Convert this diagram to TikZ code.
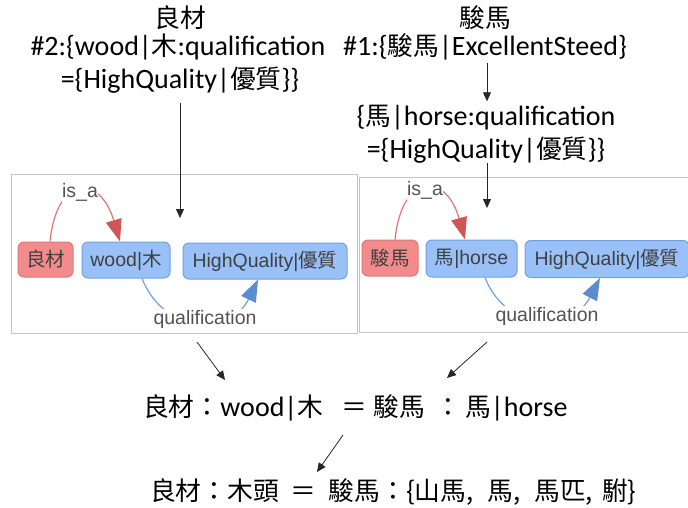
\documentclass[tikz,border=0pt]{standalone}
\usepackage{fontspec}
\setmainfont{Carlito}
\newfontfamily\cjk[Scale=0.92]{Noto Sans CJK TC}
\newfontfamily\cjkg{Noto Sans CJK TC}
\newfontfamily\arialf{Liberation Sans}
\usetikzlibrary{arrows.meta}
\newcommand{\zh}[1]{{\cjk #1}}
\newcommand{\zg}[1]{{\cjkg #1}}
\definecolor{redfill}{HTML}{F28C8C}
\definecolor{redline}{HTML}{E07676}
\definecolor{redarrow}{HTML}{D05656}
\definecolor{bluefill}{HTML}{99C1F7}
\definecolor{blueline}{HTML}{70A0E2}
\definecolor{bluearrow}{HTML}{5A8CD0}
\definecolor{nodetext}{HTML}{404040}
\definecolor{boxline}{HTML}{C4C4C4}
\begin{document}
\begin{tikzpicture}[x=1pt,y=-1pt,
  toptext/.style={font=\fontsize{28}{32}\selectfont, inner sep=0pt},
  eqtext/.style={font=\fontsize{28}{32}\selectfont, inner sep=0pt, anchor=west},
  framebox/.style={draw=boxline, line width=0.9pt, inner sep=0pt},
  gnode/.style={rounded corners=6pt, line width=1pt, inner sep=0pt,
    font=\arialf\fontsize{19.5}{21}\selectfont, text=nodetext},
  rednode/.style={gnode, fill=redfill, draw=redline},
  bluenode/.style={gnode, fill=bluefill, draw=blueline},
  elabel/.style={font=\arialf\fontsize{19.5}{21}\selectfont, text=nodetext!90, fill=white, inner sep=0.5pt},
  rededge/.style={draw=redline, line width=1.2pt, -{Triangle[length=22pt,width=16pt,color=redarrow,fill=redarrow]}},
  blueedge/.style={draw=blueline, line width=1.2pt, -{Triangle[length=22pt,width=16pt,color=bluearrow,fill=bluearrow]}},
  blackarrow/.style={draw=black!85, line width=0.8pt, -{Triangle[length=9pt,width=8pt]}}
]
\useasboundingbox (0,0) rectangle (688,508);

% ---------- top texts ----------
\node[toptext] (t1) at (180,18) {\zh{良材}};
\node[toptext] (t2) at (178,47) {\#2:\{wood|\zh{木}:qualification};
\node[toptext] (t3) at (180,80) {=\{HighQuality|\zh{優質}\}\}};

\node[toptext] (t4) at (485,18) {\zh{駿馬}};
\node[toptext] (t5) at (485,47) {\#1:\{\zh{駿馬}|ExcellentSteed\}};
\node[toptext] (t6) at (486,118) {\{\zh{馬}|horse:qualification};
\node[toptext] (t7) at (486,150) {=\{HighQuality|\zh{優質}\}\}};

% ---------- graph frames ----------
\node[framebox, minimum width=346pt, minimum height=159pt] (boxL) at (184,253.5) {};
\node[framebox, minimum width=332pt, minimum height=155pt] (boxR) at (525,254.5) {};

% ---------- left graph ----------
\node[rednode, minimum width=55pt, minimum height=35pt] (rL) at (45.5,259.5) {\zg{良材}};
\node[bluenode, minimum width=88pt, minimum height=36pt] (wL) at (126,260) {wood|\zg{木}};
\node[bluenode, minimum width=164pt, minimum height=36pt] (hL) at (265,261) {HighQuality|\zg{優質}};

\draw[rededge] ([xshift=4.5pt]rL.north) .. controls (57,174) and (100,174) .. ([xshift=-6pt]wL.north);
\node[elabel] (isaL) at (80,192) {is\_a};
\draw[blueedge] ([xshift=16pt]wL.south) .. controls (165,336) and (232,334) .. ([xshift=-7pt]hL.south);
\node[elabel] (qL) at (205,319) {qualification};

% ---------- right graph ----------
\node[rednode, minimum width=56pt, minimum height=36pt] (rR) at (390,258) {\zg{駿馬}};
\node[bluenode, minimum width=91pt, minimum height=37pt] (hoR) at (471.5,258.5) {\zg{馬}|horse};
\node[bluenode, minimum width=164pt, minimum height=37pt] (hqR) at (607,259) {HighQuality|\zg{優質}};

\draw[rededge] ([xshift=5pt]rR.north) .. controls (402,172) and (446,172) .. ([xshift=-6.5pt]hoR.north);
\node[elabel] (isaR) at (425,190) {is\_a};
\draw[blueedge] ([xshift=13.5pt]hoR.south) .. controls (506,332) and (572,332) .. ([xshift=-7pt]hqR.south);
\node[elabel] (qR) at (547,316) {qualification};

% ---------- bottom equations ----------
\node[eqtext] (eq1) at (143,408) {\zh{良材：}wood|\zh{木}\hspace{18pt}\zh{＝}\hspace{7pt}\zh{駿馬}\hspace{10pt}\zh{：}\hspace{4pt}\zh{馬}|horse};
\node[eqtext] (eq2) at (150,492) {\zh{良材：木頭\hspace{12pt}＝\hspace{12pt}駿馬：\{山馬,\hspace{14pt}馬,\hspace{14pt}馬匹,\hspace{9pt}駙\}}};

% ---------- black arrows ----------
\coordinate (a1s) at (180,103);
\coordinate (a1e) at (180,218);
\draw[blackarrow] (a1s) -- (a1e);
\draw[blackarrow] ([yshift=-3pt]t5.south -| 487,0) -- ([yshift=4pt]t6.north -| 487,0);
\coordinate (a3s) at (487,163);
\coordinate (a3e) at (487,208);
\draw[blackarrow] (a3s) -- (a3e);

\coordinate (a4s) at (197,342);
\coordinate (a4e) at (225,380);
\draw[blackarrow] (a4s) -- (a4e);
\coordinate (a5s) at (487,342);
\coordinate (a5e) at (447,378);
\draw[blackarrow] (a5s) -- (a5e);
\coordinate (a6s) at (343,435);
\coordinate (a6e) at (317,472);
\draw[blackarrow] (a6s) -- (a6e);
\end{tikzpicture}
\end{document}
